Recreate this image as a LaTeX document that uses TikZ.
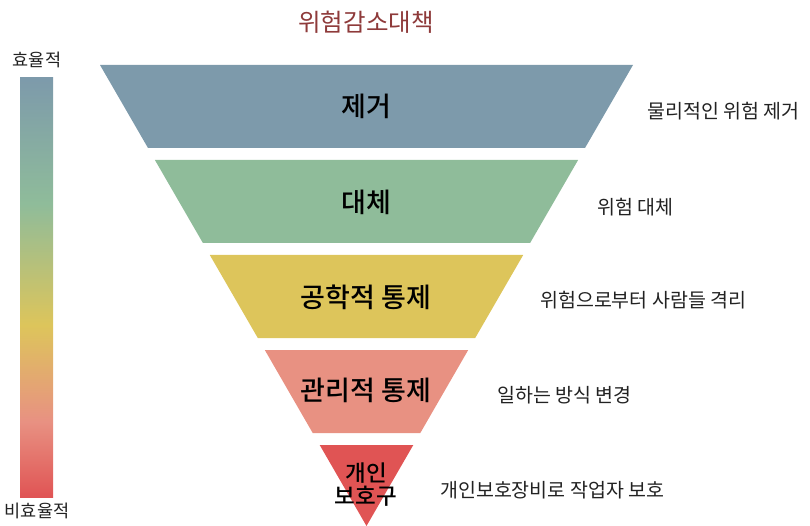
\documentclass[tikz,border=0pt]{standalone}
\usepackage{fontspec}
\setmainfont{Noto Sans CJK KR}
\newfontfamily\medfont{Noto Sans CJK KR Medium}
\definecolor{cB}{HTML}{7D9AAB}
\definecolor{cG}{HTML}{8FBC9A}
\definecolor{cY}{HTML}{DDC55B}
\definecolor{cP}{HTML}{E89182}
\definecolor{cR}{HTML}{E05454}
\definecolor{ttl}{HTML}{8E3A3A}
\definecolor{txt}{HTML}{222222}
\pgfdeclareverticalshading{effbar}{100bp}{color(0bp)=(cR); color(25bp)=(cR); color(34bp)=(cP); color(45.5bp)=(cY); color(60bp)=(cG); color(75bp)=(cB); color(100bp)=(cB)}
\tikzset{
  mainlbl/.style={font=\fontsize{27}{28}\selectfont\medfont, text=black, inner sep=0pt, align=center},
  desc/.style={font=\fontsize{19.5}{22}\selectfont, text=txt, anchor=west, inner sep=0pt},
  barlbl/.style={font=\fontsize{17.5}{20}\selectfont, text=txt, inner sep=0pt}
}
\begin{document}
\begin{tikzpicture}[x=1pt,y=-1pt]
\useasboundingbox (0,0) rectangle (810,526);
\clip (0,0) rectangle (810,526);
% title
\node[font=\fontsize{24.5}{26}\selectfont, text=ttl, inner sep=0pt] (title) at (366,22) {위험감소대책};
% efficiency bar
\shade[shading=effbar] (20,78) rectangle (53,497);
\node[barlbl] (eff) at (37,60) {효율적};
\node[barlbl] (ineff) at (37,511) {비효율적};
% funnel levels
\fill[cB] (100,65) -- (633,65) -- (585,148) -- (148,148) -- cycle;
\fill[cG] (154.9,160) -- (578.1,160) -- (530.1,243) -- (202.9,243) -- cycle;
\fill[cY] (209.8,255) -- (523.2,255) -- (475.2,338) -- (257.8,338) -- cycle;
\fill[cP] (264.8,350) -- (468.2,350) -- (420.3,433) -- (312.7,433) -- cycle;
\fill[cR] (319.7,445) -- (413.3,445) -- (366.5,526) -- cycle;
% main labels
\node[mainlbl] (l1) at (366,106) {제거};
\node[mainlbl] (l2) at (366,202) {대체};
\node[mainlbl] (l3) at (366,297) {공학적 통제};
\node[mainlbl] (l4) at (366,390) {관리적 통제};
\node[mainlbl, font=\fontsize{22.5}{23}\selectfont\medfont] (l5) at (366,485) {개인\\보호구};
% descriptions
\node[desc] (d1) at (647,111) {물리적인 위험 제거};
\node[desc] (d2) at (597,207) {위험 대체};
\node[desc] (d3) at (540,300) {위험으로부터 사람들 격리};
\node[desc] (d4) at (497,395) {일하는 방식 변경};
\node[desc] (d5) at (440,490) {개인보호장비로 작업자 보호};
\end{tikzpicture}
\end{document}
